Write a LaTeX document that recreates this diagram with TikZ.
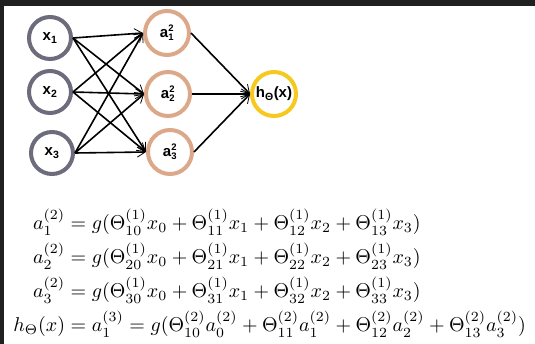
\documentclass[tikz,border=0pt]{standalone}
\usepackage{amsmath}
\usepackage{fontspec}
\usepackage{tikz}
\usetikzlibrary{
  arrows.meta,
  positioning
}
\newfontfamily\nodefont{Liberation Sans}
\definecolor{inputring}{RGB}{108, 108, 124}
\definecolor{hiddenring}{RGB}{220, 168, 138}
\definecolor{outputring}{RGB}{247, 200, 30}
\definecolor{framecolor}{RGB}{32, 32, 32}
\newcommand{\scriptlab}[1]{\mbox{\fontsize{9.5}{10}\selectfont #1}}
\newcommand{\alab}[2]{$\mbox{a}^{\scriptlab{#1}}_{\scriptlab{#2}}$}
\setlength{\jot}{2pt}
\tikzset{
neuronbase/.style={
  circle,
  line width=4pt,
  inner sep=0pt,
  fill=white,
  font=\nodefont\bfseries\fontsize{15}{17}\selectfont
},
inputneuron/.style={
  neuronbase,
  draw=inputring,
  minimum size=42pt
},
hiddenneuron/.style={
  neuronbase,
  draw=hiddenring,
  minimum size=44pt
},
outputneuron/.style={
  neuronbase,
  draw=outputring,
  minimum size=44pt
}
}

\begin{document}
\begin{tikzpicture}[
    x=1pt, y=-1pt,
    % Estilo para setas
    arrow/.style={
        -{Straight Barb[length=8pt,width=10pt,line width=0.8pt]},
        line width=1.6pt,
        draw=black
    },
]

% ============================================================================
% Fundo e moldura
% ============================================================================
\useasboundingbox (0,0) rectangle (535,344);
\fill[white] (0,0) rectangle (535,344);
\fill[framecolor] (0,0) rectangle (535,6);
\fill[framecolor] (0,0) rectangle (3.5,344);

% ============================================================================
% Camada de entrada
% ============================================================================
\node[inputneuron] (x1) at (50,38) {x\textsubscript{1}};
\node[inputneuron, below=8pt of x1] (x2) {x\textsubscript{2}};
\node[inputneuron, below=15pt of x2, xshift=2pt] (x3) {x\textsubscript{3}};

% ============================================================================
% Camada oculta
% ============================================================================
\node[hiddenneuron, right=70pt of x1, yshift=5pt] (a1) {\alab{2}{1}};
\node[hiddenneuron, below=13pt of a1, xshift=1pt] (a2) {\alab{2}{2}};
\node[hiddenneuron, below=10pt of a2, xshift=2pt] (a3) {\alab{2}{3}};

% ============================================================================
% Saida
% ============================================================================
\node[outputneuron, right=58pt of a2] (h) {h\textsubscript{Θ}(x)};

% ============================================================================
% Setas de conexao
% ============================================================================
\draw[arrow] (x1.east) -- (a1.west);
\draw[arrow] (x1.east) -- (a2.west);
\draw[arrow] (x1.east) -- (a3.west);
\draw[arrow] (x2.east) -- (a1.west);
\draw[arrow] (x2.east) -- (a2.west);
\draw[arrow] (x2.east) -- (a3.west);
\draw[arrow] (x3.east) -- (a1.west);
\draw[arrow] (x3.east) -- (a2.west);
\draw[arrow] (x3.east) -- (a3.west);

\draw[arrow] (a1.east) -- (h.west);
\draw[arrow] (a2.east) -- (h.west);
\draw[arrow] (a3.east) -- (h.west);

% ============================================================================
% Equacoes
% ============================================================================
\node[anchor=west, inner sep=0pt, scale=2.0] (eqs) at (13,274) {$
\begin{aligned}
a_1^{(2)} &= g(\Theta_{10}^{(1)}x_0+\Theta_{11}^{(1)}x_1+\Theta_{12}^{(1)}x_2+\Theta_{13}^{(1)}x_3)\\
a_2^{(2)} &= g(\Theta_{20}^{(1)}x_0+\Theta_{21}^{(1)}x_1+\Theta_{22}^{(1)}x_2+\Theta_{23}^{(1)}x_3)\\
a_3^{(2)} &= g(\Theta_{30}^{(1)}x_0+\Theta_{31}^{(1)}x_1+\Theta_{32}^{(1)}x_2+\Theta_{33}^{(1)}x_3)\\
h_\Theta(x) &= a_1^{(3)} = g(\Theta_{10}^{(2)}a_0^{(2)}+\Theta_{11}^{(2)}a_1^{(2)}+\Theta_{12}^{(2)}a_2^{(2)}+\Theta_{13}^{(2)}a_3^{(2)})
\end{aligned}$};

\end{tikzpicture}
\end{document}
